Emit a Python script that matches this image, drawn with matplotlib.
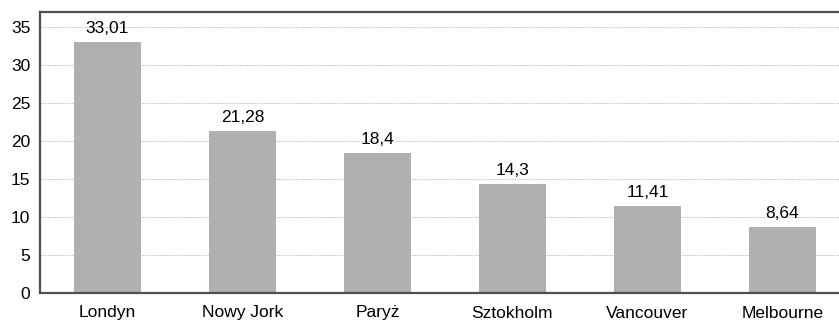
import matplotlib
matplotlib.use("Agg")
import matplotlib.pyplot as plt
from matplotlib import font_manager

cities = ["Londyn", "Nowy Jork", "Paryż", "Sztokholm", "Vancouver", "Melbourne"]
values = [33.01, 21.28, 18.4, 14.3, 11.41, 8.64]
labels = ["33,01", "21,28", "18,4", "14,3", "11,41", "8,64"]
yticks = [0, 5, 10, 15, 20, 25, 30, 35]

names = {f.name for f in font_manager.fontManager.ttflist}
family = ["Liberation Sans Narrow", "Liberation Sans", "DejaVu Sans"]
family = [f for f in family if f in names] or ["DejaVu Sans"]
plt.rcParams["font.family"] = family

fig = plt.figure(figsize=(8.39, 3.23), dpi=100)
ax = fig.add_axes([40 / 839, 30 / 323, 1 - 40 / 839, 281 / 323])

x = range(len(cities))
ax.bar(x, values, width=0.5, color="#b0b0b0", zorder=2)
for xi, v, lab in zip(x, values, labels):
    ax.annotate(lab, (xi, v), xytext=(0, 4.5), textcoords="offset points",
                ha="center", va="bottom", fontsize=12.5, color="black", zorder=3)

ax.set_ylim(0, 37)
ax.set_xlim(-0.5, 5.42)
ax.set_yticks(yticks)
ax.set_xticks(list(x))
ax.set_xticklabels(cities)
ax.yaxis.grid(True, linestyle=(0, (1.5, 1)), color="#c4c4c4", linewidth=0.7, zorder=1)
ax.tick_params(axis="both", length=0, labelsize=12.5, colors="black", pad=7)
ax.tick_params(axis="x", pad=9)
for side in ["left", "bottom", "top"]:
    ax.spines[side].set_color("#505050")
    ax.spines[side].set_linewidth(1.6)
ax.spines["right"].set_visible(False)

fig.savefig("out.png", dpi=100)
